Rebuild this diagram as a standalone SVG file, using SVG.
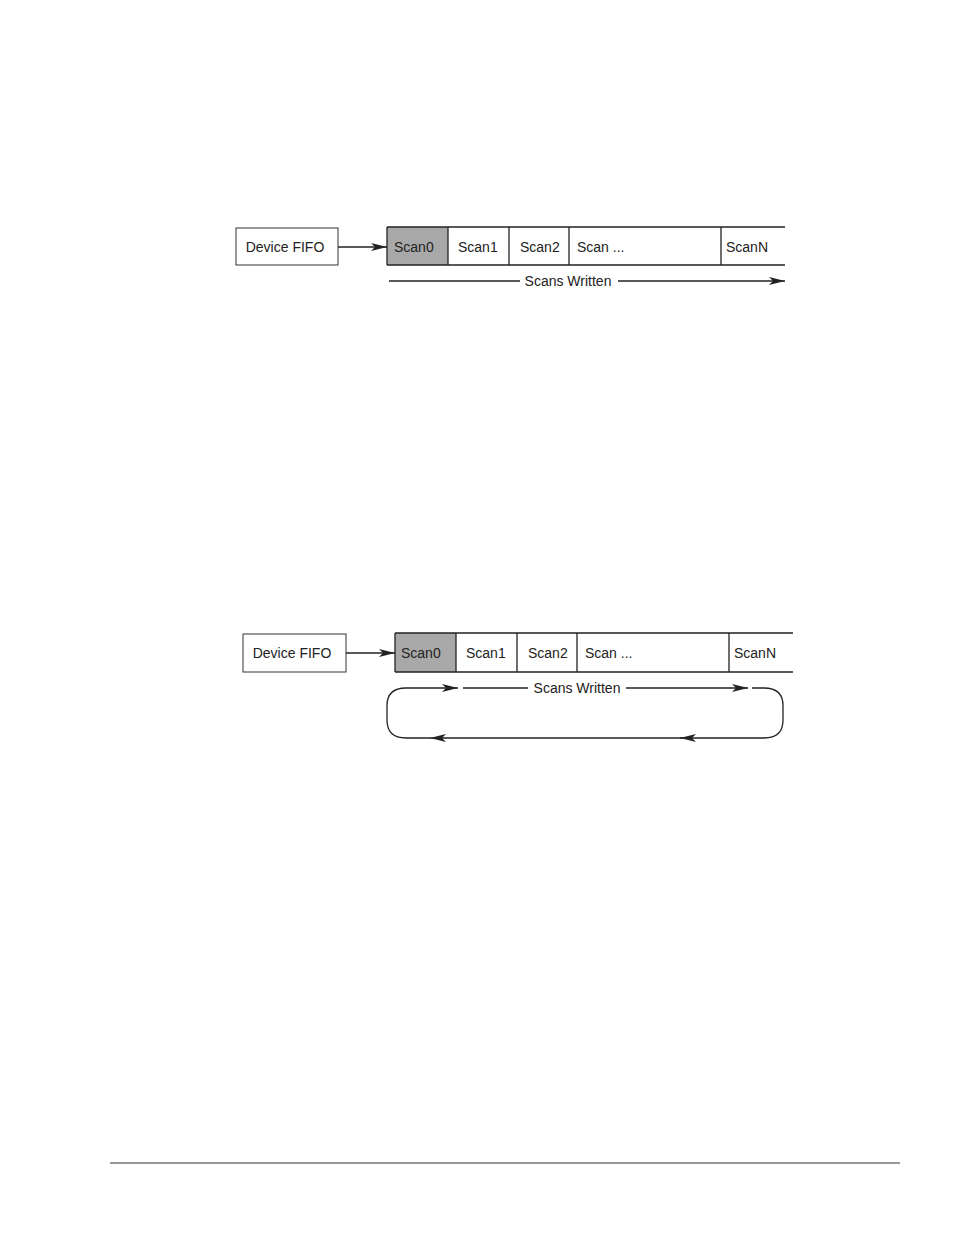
<svg xmlns="http://www.w3.org/2000/svg" width="954" height="1235" viewBox="0 0 954 1235">
<style>
text{font-family:"Liberation Sans",Arial,sans-serif;font-size:14px;fill:#222}
.b{fill:#fff;stroke:#333;stroke-width:1}
.l{fill:none;stroke:#222;stroke-width:1.3}
</style>
<defs>
<marker id="a" viewBox="0 0 16 8" refX="16" refY="4" markerWidth="16" markerHeight="8" markerUnits="userSpaceOnUse" orient="auto"><path d="M0,0 L16,4 L0,8 L4,4 Z" fill="#222"/></marker>
</defs>
<rect width="954" height="1235" fill="#fff"/>
<g id="fifo1"><rect class="b" x="236" y="228" width="102" height="37"/><text x="285" y="252" text-anchor="middle">Device FIFO</text></g>
<g id="buf1">
<rect x="387" y="227" width="61" height="38" fill="#a8a8a8"/>
<path class="l" d="M387,227H785M387,265H785M387,227V265M448,227V265M509,227V265M569,227V265M721,227V265" stroke-width="1"/>
<text x="394" y="252">Scan0</text><text x="458" y="252">Scan1</text><text x="520" y="252">Scan2</text><text x="577" y="252">Scan ...</text><text x="726" y="252">ScanN</text>
</g>
<g id="fifo2"><rect class="b" x="243" y="634" width="103" height="38"/><text x="292" y="658" text-anchor="middle">Device FIFO</text></g>
<g id="buf2">
<rect x="395" y="633" width="61" height="39" fill="#a8a8a8"/>
<path class="l" d="M395,633H793M395,672H793M395,633V672M456,633V672M517,633V672M577,633V672M729,633V672" stroke-width="1"/>
<text x="401" y="658">Scan0</text><text x="466" y="658">Scan1</text><text x="528" y="658">Scan2</text><text x="585" y="658">Scan ...</text><text x="734" y="658">ScanN</text>
</g>
<g id="connectors">
<line class="l" x1="338" y1="247" x2="387" y2="247" marker-end="url(#a)"/>
<line class="l" x1="389" y1="281" x2="520" y2="281"/>
<text x="568" y="286" text-anchor="middle">Scans Written</text>
<line class="l" x1="618" y1="281" x2="785" y2="281" marker-end="url(#a)"/>
<line class="l" x1="346" y1="653" x2="395" y2="653" marker-end="url(#a)"/>
<path class="l" d="M430,738 H406 Q387,738 387,720 V706 Q387,688 406,688 H458" marker-end="url(#a)"/>
<line class="l" x1="463" y1="688" x2="528" y2="688"/>
<text x="577" y="693" text-anchor="middle">Scans Written</text>
<line class="l" x1="626" y1="688" x2="748" y2="688" marker-end="url(#a)"/>
<path class="l" d="M752,688 H764 Q783,688 783,706 V720 Q783,738 764,738 H680" marker-end="url(#a)"/>
<line class="l" x1="682" y1="738" x2="430" y2="738" marker-end="url(#a)"/>
</g>
<line x1="110" y1="1163" x2="900" y2="1163" stroke="#333" stroke-width="1"/>
</svg>
